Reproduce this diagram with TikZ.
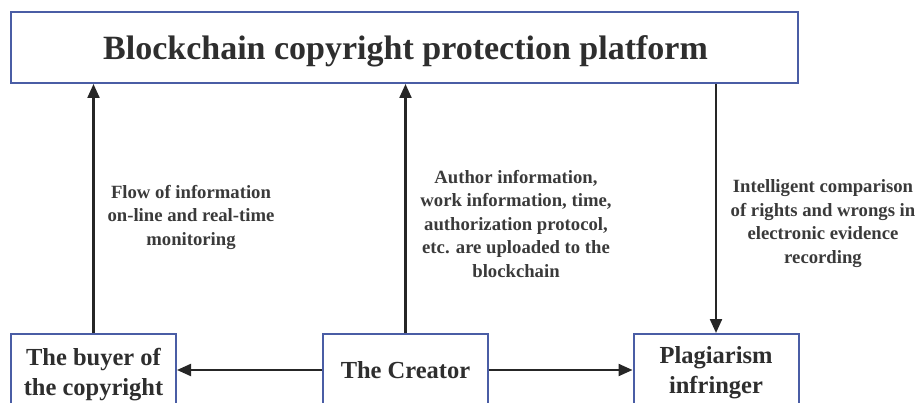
\documentclass[tikz,border=0pt]{standalone}
\usepackage{fontspec}
\setmainfont{Liberation Serif}
\usetikzlibrary{arrows.meta}
\definecolor{boxblue}{HTML}{4A5DA5}
\definecolor{txt}{HTML}{2E2E2E}
\definecolor{lblc}{HTML}{3A3A3A}
\definecolor{arr}{HTML}{262626}
\begin{document}
\begin{tikzpicture}[x=1pt,y=-1pt,
 box/.style={draw=boxblue, line width=2pt, fill=white, minimum width=165pt, minimum height=72pt, inner sep=0pt},
 boxtext/.style={font=\bfseries\fontsize{24.5}{30}\selectfont, text=txt, align=center, inner sep=0pt},
 lbl/.style={font=\bfseries\fontsize{18.7}{23.4}\selectfont, text=lblc, align=center, inner sep=0pt, anchor=base},
 conn/.style={draw=arr, line width=2.2pt, -{Triangle[length=14pt,width=12pt]}}]
\useasboundingbox (0,0) rectangle (917,403);
\node[box, minimum width=787pt, minimum height=70.5pt] (top) at (404.5,47.75) {};
\node[anchor=base, font=\bfseries\fontsize{34}{40}\selectfont, text=txt, inner sep=0pt] (title) at (405.5,60) {Blockchain copyright protection platform};
\node[box] (buyer) at (93.5,370) {};
\node[boxtext, anchor=base] (buyertext) at (93.5,395) {The buyer of\\the copyright};
\node[box] (creator) at (405.5,370) {};
\node[boxtext, anchor=base] (creatortext) at (405.5,378) {The Creator};
\node[box] (plag) at (716,370) {};
\node[boxtext, anchor=base] (plagtext) at (716,393) {Plagiarism\\infringer};
\draw[conn] (buyer.north) -- (buyer.north |- top.south);
\draw[conn] (creator.north) -- (creator.north |- top.south);
\draw[conn] (top.south -| plag.north) -- (plag.north);
\draw[conn] (creator.west) -- (buyer.east);
\draw[conn] (creator.east) -- (plag.west);
\node[lbl] (l1) at (191,245) {Flow of information\\on-line and real-time\\monitoring};
\node[lbl] (l2) at (516,277) {Author information,\\work information, time,\\authorization protocol,\\etc. are uploaded to the\\blockchain};
\node[lbl] (l3) at (823,263) {Intelligent comparison\\of rights and wrongs in\\electronic evidence\\recording};
\end{tikzpicture}
\end{document}
